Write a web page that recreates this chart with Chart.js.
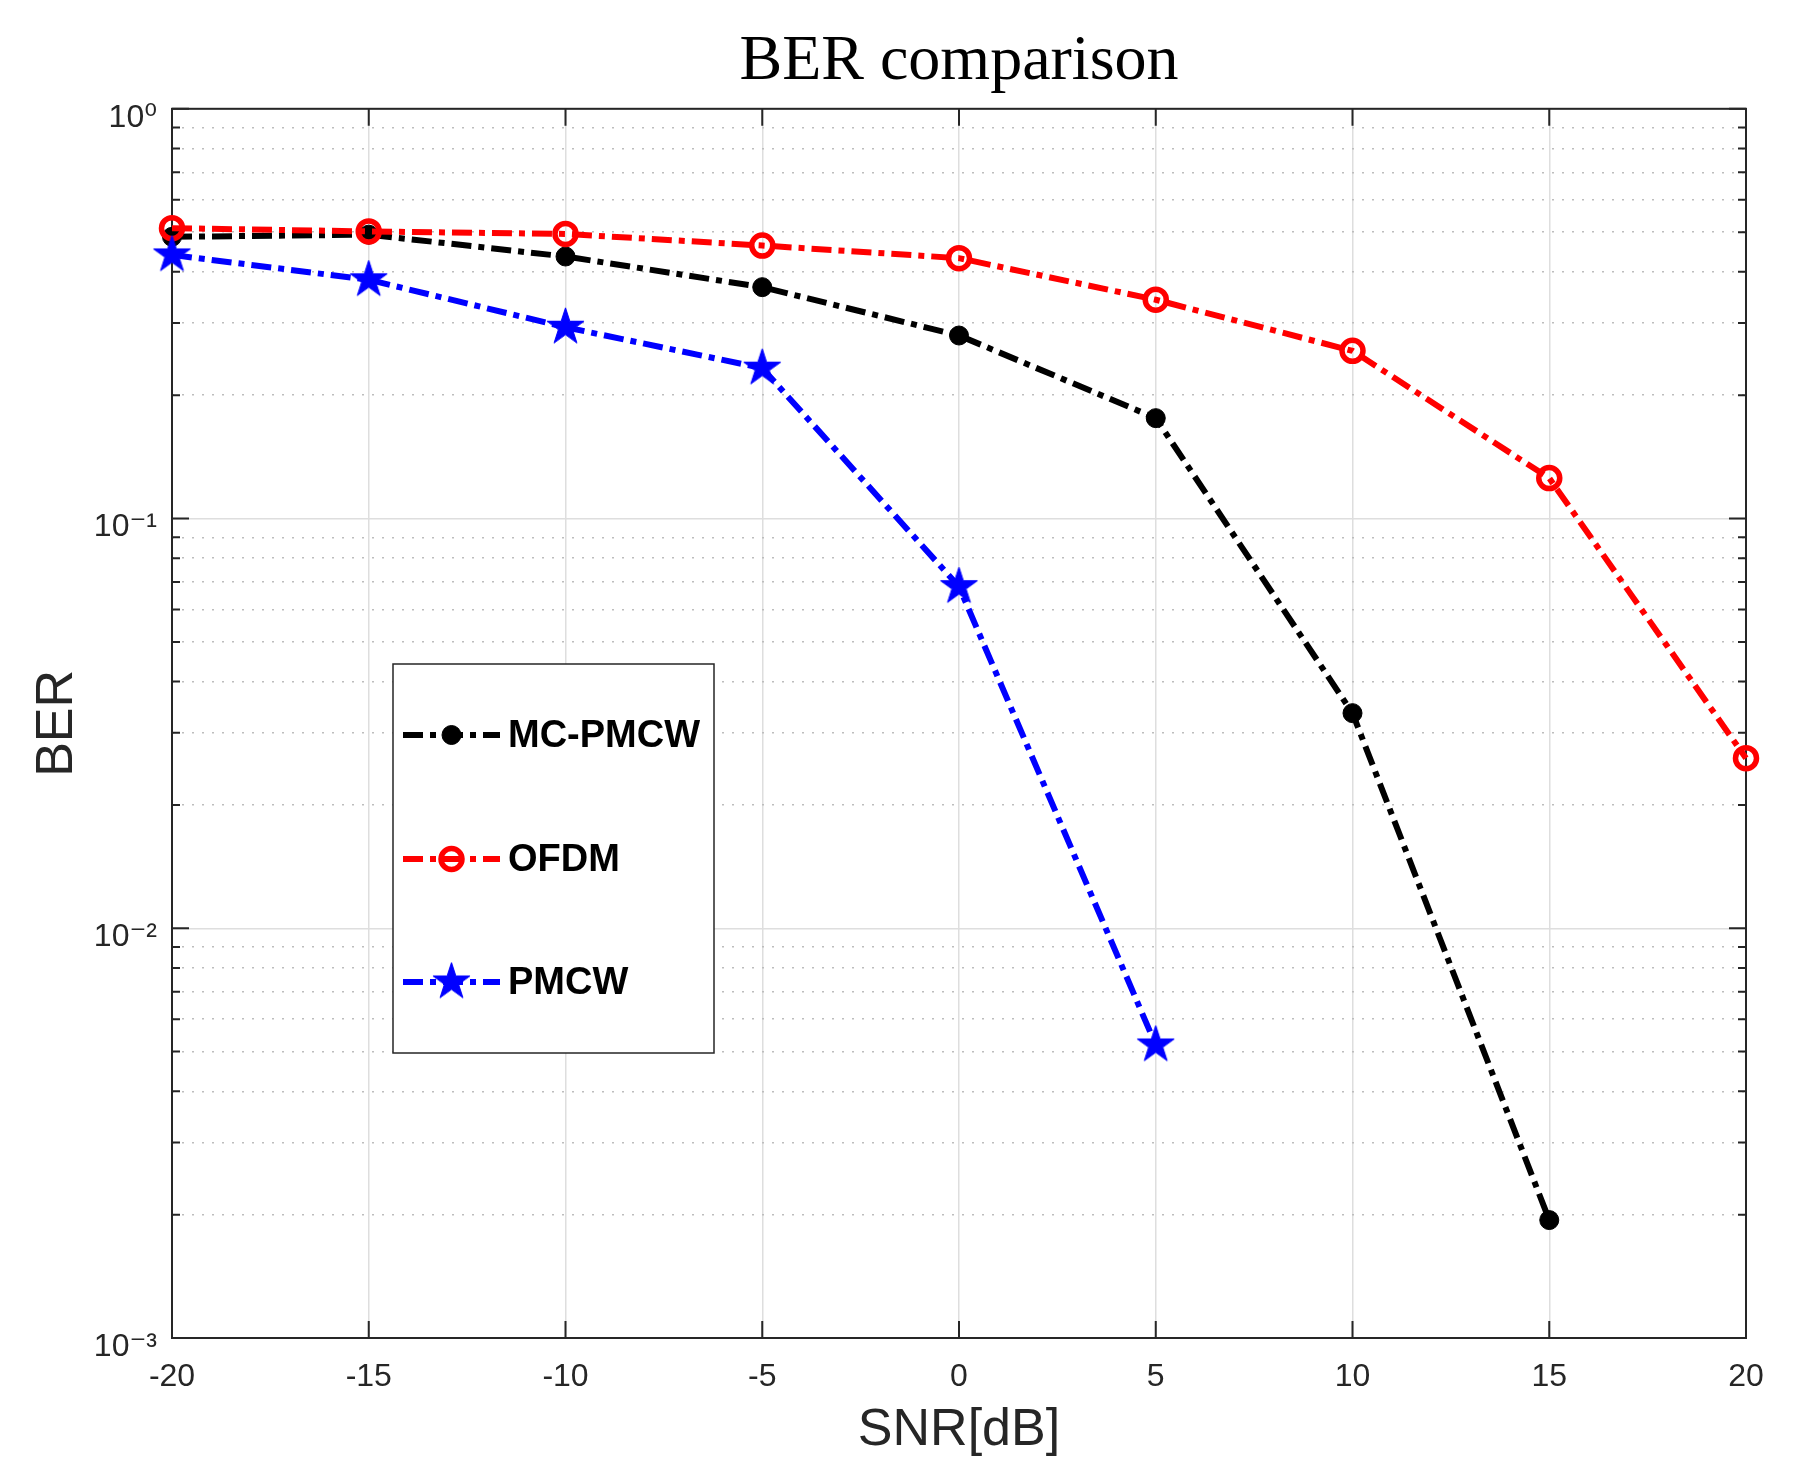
<!DOCTYPE html>
<html><head><meta charset="utf-8">
<script src="https://cdn.jsdelivr.net/npm/chart.js@4/dist/chart.umd.min.js"></script>
<style>html,body{margin:0;padding:0;background:#fff}</style>
</head><body>
<canvas id="c" width="1798" height="1458"></canvas>
<script>
// ---- data ----
const snr = [-20, -15, -10, -5, 0, 5, 10, 15, 20];
const mcPmcw = [0.487, 0.493, 0.436, 0.367, 0.2797, 0.1758, 0.0335, 0.00194, null];
const ofdm = [0.5114, 0.502, 0.495, 0.4638, 0.432, 0.342, 0.2566, 0.1255, 0.0260];
const pmcw = [0.440, 0.3825, 0.293, 0.2328, 0.0682, 0.00519, null, null, null];
const seriesNames = ['MC-PMCW', 'OFDM', 'PMCW'];
const xTickValues = [-20, -15, -10, -5, 0, 5, 10, 15, 20];
const yDecades = [0.001, 0.01, 0.1, 1];
const yDecadeLabels = ['10⁻³', '10⁻²', '10⁻¹', '10⁰'];
const yMinorMultipliers = [2, 3, 4, 5, 6, 7, 8, 9];
const chartTitle = 'BER comparison';
const xTitle = 'SNR[dB]';
const yTitle = 'BER';

const toPoints = arr => snr.map((x, i) => ({x: x, y: arr[i]})).filter(p => p.y !== null);
const isDecade = v => Math.abs(Math.log10(v) - Math.round(Math.log10(v))) < 1e-9;

// star marker image
function makeStar(R, color) {
  const s = Math.ceil(R * 2 + 4);
  const c = document.createElement('canvas');
  c.width = s; c.height = s;
  const g = c.getContext('2d');
  const cx = s / 2, cy = s / 2, r = R * 0.382;
  g.beginPath();
  for (let k = 0; k < 10; k++) {
    const ang = -Math.PI / 2 + k * Math.PI / 5;
    const rr = k % 2 === 0 ? R : r;
    const px = cx + rr * Math.cos(ang), py = cy + rr * Math.sin(ang);
    if (k === 0) g.moveTo(px, py); else g.lineTo(px, py);
  }
  g.closePath();
  g.fillStyle = color; g.fill();
  g.lineWidth = 1; g.strokeStyle = color; g.stroke();
  return c;
}
const starImg = makeStar(19.5, '#0000ff');

const dash = [20, 7, 6, 7];
const axisColor = '#262626';
const sansFont = '"Liberation Sans", Arial, Helvetica, "DejaVu Sans", sans-serif';

const datasets = [
  {label: seriesNames[0], data: toPoints(mcPmcw), borderColor: '#000000', backgroundColor: '#000000',
   pointStyle: 'circle', pointRadius: 9.5, pointBorderWidth: 1, pointBackgroundColor: '#000000', pointBorderColor: '#000000', order: 3},
  {label: seriesNames[1], data: toPoints(ofdm), borderColor: '#ff0000', backgroundColor: 'rgba(0,0,0,0)',
   pointStyle: 'circle', pointRadius: 10.5, pointBorderWidth: 5.5, pointBackgroundColor: 'rgba(0,0,0,0)', pointBorderColor: '#ff0000', order: 2},
  {label: seriesNames[2], data: toPoints(pmcw), borderColor: '#0000ff', backgroundColor: '#0000ff',
   pointStyle: starImg, pointRadius: 18, pointBackgroundColor: '#0000ff', pointBorderColor: '#0000ff', order: 1}
].map(d => Object.assign({borderWidth: 6, borderDash: dash, borderCapStyle: 'butt', tension: 0, fill: false, clip: false,
  pointHoverRadius: d.pointRadius}, d));

// box + inward ticks (drawn below data)
const boxPlugin = {
  id: 'boxTicks',
  beforeDatasetsDraw(chart) {
    const {ctx, chartArea: a, scales} = chart;
    ctx.save();
    ctx.strokeStyle = axisColor;
    ctx.lineWidth = 2;
    ctx.beginPath();
    scales.x.ticks.forEach(t => {
      const px = scales.x.getPixelForValue(t.value);
      ctx.moveTo(px, a.bottom); ctx.lineTo(px, a.bottom - 17);
      ctx.moveTo(px, a.top); ctx.lineTo(px, a.top + 17);
    });
    scales.y.ticks.forEach(t => {
      const py = scales.y.getPixelForValue(t.value);
      const L = isDecade(t.value) ? 17 : 8;
      ctx.moveTo(a.left, py); ctx.lineTo(a.left + L, py);
      ctx.moveTo(a.right, py); ctx.lineTo(a.right - L, py);
    });
    ctx.stroke();
    ctx.strokeRect(a.left, a.top, a.right - a.left, a.bottom - a.top);
    ctx.restore();
  }
};

// legend box inside the axes
const legendPlugin = {
  id: 'innerLegend',
  afterDraw(chart, args, opts) {
    const {ctx} = chart;
    ctx.save();
    ctx.fillStyle = '#ffffff';
    ctx.fillRect(opts.x, opts.y, opts.w, opts.h);
    ctx.strokeStyle = axisColor;
    ctx.lineWidth = 1.5;
    ctx.strokeRect(opts.x, opts.y, opts.w, opts.h);
    chart.data.datasets.forEach((ds, i) => {
      const y = opts.rows[i];
      ctx.save();
      ctx.strokeStyle = ds.borderColor;
      ctx.lineWidth = ds.borderWidth;
      ctx.setLineDash(ds.borderDash);
      ctx.beginPath();
      ctx.moveTo(opts.lineX0, y); ctx.lineTo(opts.lineX1, y);
      ctx.stroke();
      ctx.restore();
      const mx = (opts.lineX0 + opts.lineX1) / 2;
      if (ds.pointStyle instanceof HTMLCanvasElement) {
        const im = ds.pointStyle;
        ctx.drawImage(im, mx - im.width / 2, y - im.height / 2);
      } else {
        ctx.beginPath();
        ctx.arc(mx, y, ds.pointRadius, 0, Math.PI * 2);
        ctx.lineWidth = ds.pointBorderWidth;
        ctx.strokeStyle = ds.pointBorderColor;
        if (ds.pointBackgroundColor !== 'rgba(0,0,0,0)') { ctx.fillStyle = ds.pointBackgroundColor; ctx.fill(); }
        ctx.stroke();
      }
      ctx.fillStyle = '#000000';
      ctx.font = 'bold 38px ' + sansFont;
      ctx.textAlign = 'left';
      ctx.textBaseline = 'middle';
      ctx.fillText(ds.label, opts.textX, y + 2);
    });
    ctx.restore();
  }
};

new Chart(document.getElementById('c'), {
  type: 'line',
  data: {datasets: datasets},
  options: {
    responsive: false,
    animation: false,
    devicePixelRatio: 1,
    layout: {padding: {top: 0, right: 52, bottom: 0, left: 0}},
    events: [],
    plugins: {
      legend: {display: false},
      tooltip: {enabled: false},
      title: {display: true, text: chartTitle, color: '#000000', fullSize: false,
        font: {family: '"Liberation Serif", "Times New Roman", serif', size: 64, weight: 'normal', lineHeight: 1.2},
        padding: {top: 24, bottom: 8}},
      innerLegend: {x: 393, y: 664, w: 321, h: 389, lineX0: 403, lineX1: 500, textX: 508, rows: [735, 859, 982]}
    },
    scales: {
      x: {
        type: 'linear', min: -20, max: 20,
        afterBuildTicks: s => { s.ticks = xTickValues.map(v => ({value: v})); },
        afterFit: s => { s.height = 120; },
        ticks: {autoSkip: false, maxRotation: 0, padding: 20, color: axisColor,
          font: {family: sansFont, size: 32}, callback: v => String(v)},
        grid: {color: '#dedede', lineWidth: 1.5, drawTicks: false},
        border: {display: false},
        title: {display: true, text: xTitle, color: axisColor,
          font: {family: sansFont, size: 52, lineHeight: 1}, padding: {top: 0, bottom: 1}}
      },
      y: {
        type: 'logarithmic', min: 0.001, max: 1,
        afterBuildTicks: s => {
          const t = [];
          yDecades.forEach((d, i) => {
            t.push({value: d, major: true});
            if (i < yDecades.length - 1) yMinorMultipliers.forEach(m => t.push({value: +(d * m).toPrecision(6), major: false}));
          });
          s.ticks = t;
        },
        afterFit: s => { s.width = 172; },
        ticks: {autoSkip: false, padding: 15, labelOffset: 9, color: axisColor,
          font: {family: sansFont, size: 32},
          callback: v => { const i = yDecades.findIndex(d => Math.abs(d - v) / d < 1e-6); return i >= 0 ? yDecadeLabels[i] : ''; }},
        grid: {drawTicks: false,
          color: c => (c.tick && isDecade(c.tick.value)) ? '#dedede' : '#bdbdbd',
          lineWidth: 1.5},
        border: {display: false,
          dash: c => (c.tick && isDecade(c.tick.value)) ? [] : [2, 8]},
        title: {display: true, text: yTitle, color: axisColor,
          font: {family: sansFont, size: 52, lineHeight: 1}, padding: {top: 32, bottom: 0}}
      }
    }
  },
  plugins: [boxPlugin, legendPlugin]
});
</script>
</body></html>
